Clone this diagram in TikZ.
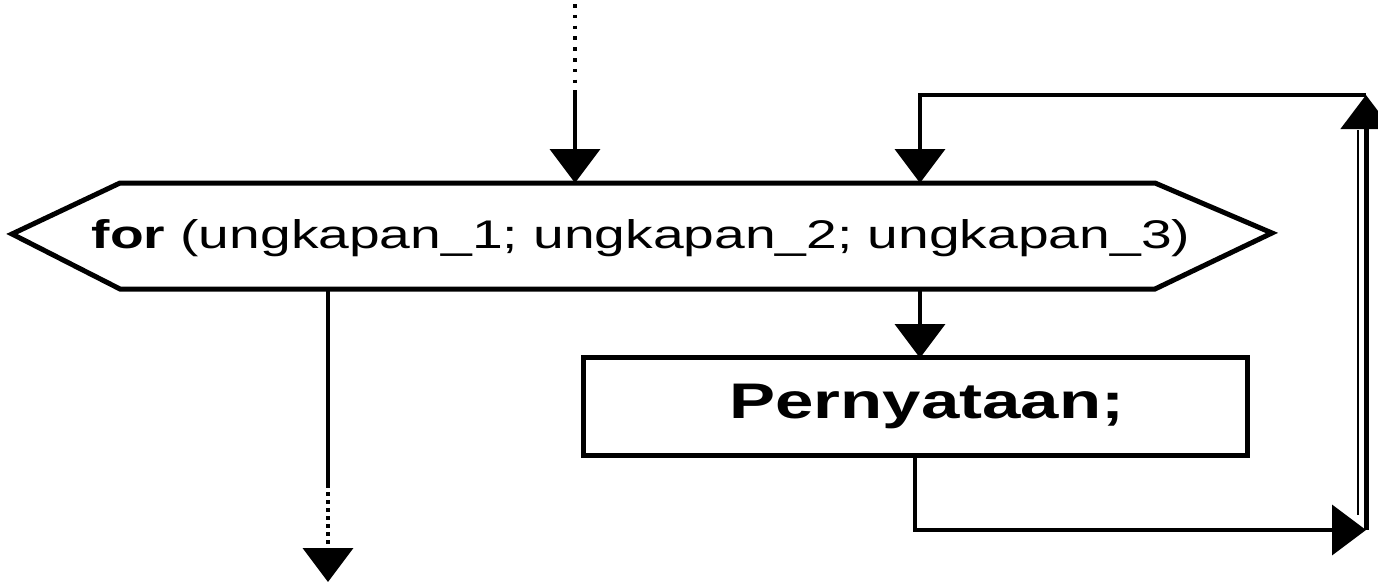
\documentclass[tikz,border=0pt]{standalone}
\usepackage{fontspec}
\newfontfamily\diagfont[FakeStretch=1.38]{Liberation Sans}
\usetikzlibrary{arrows.meta,calc}

\begin{document}
\begin{tikzpicture}[x=0.5pt,y=-0.5pt,
  line/.style={line width=2pt},
  flow/.style={line width=2pt,-{Triangle[width=25pt,length=17pt]}},
  dots/.style={line width=2pt,dash pattern=on 1.8pt off 3.6pt},
  frame/.style={line width=2.5pt,line join=miter},
  procbox/.style={draw,frame,rectangle,inner sep=0pt,
    minimum width=332pt,minimum height=49pt,
    font=\diagfont\fontsize{25pt}{30pt}\selectfont\bfseries},
  hexbody/.style={inner sep=0pt,
    font=\diagfont\fontsize{20pt}{24pt}\selectfont}]
  \clip (0,0) rectangle (1378,584);
  \useasboundingbox (0,0) rectangle (1378,584);

  % loop header: hexagon with the for statement
  \node[hexbody] (hex) at (641,238)
    {{\bfseries for} (ungkapan\_1; ungkapan\_2; ungkapan\_3)};
  \coordinate (hexN) at (641,183);
  \coordinate (hexS) at (641,289);
  \draw[frame] (120,183) -- (1155,183) -- (1272,233) -- (1155,289)
    -- (120,289) -- (12,234) -- cycle;

  % loop body
  \node[procbox] (box) at (915,406) {\hspace*{12pt}Pernyataan;};

  % entry from above
  \coordinate (topin) at (575,4);
  \coordinate (topmid) at (575,94);
  \draw[dots] (topin) -- (topmid);
  \draw[flow] (topmid) -- (topmid |- hexN);

  % exit below
  \coordinate (exitA) at (328,484);
  \coordinate (exitC) at (328,582);
  \draw[line] (exitA |- hexS) -- (exitA);
  \draw[dots,line width=2pt,dash pattern=on 1.8pt off 2.2pt,
        -{Triangle[width=25pt,length=17pt]}] (exitA) -- (exitC);

  % into the body
  \coordinate (bodyin) at (920,358);
  \draw[flow] (bodyin |- hexS) -- (bodyin);

  % back edge of the loop
  \coordinate (lowR) at (1366,530);
  \coordinate (topR) at (1366,95);
  \coordinate (retx) at (920,95);
  \draw[flow] (box.south) |- (lowR);
  \draw[flow,line width=2.5pt] (lowR) -- (topR);
  \draw[line width=1.2pt] ($(topR)+(-8,35)$) -- ($(lowR)+(-8,-15)$);
  \draw[flow] (topR) -- (retx) -- (retx |- hexN);
\end{tikzpicture}
\end{document}
